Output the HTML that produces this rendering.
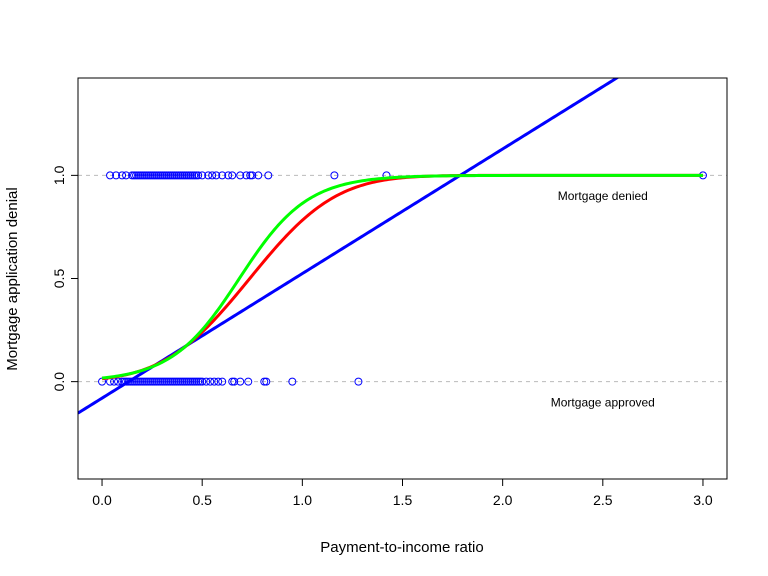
<!DOCTYPE html>
<html><head><meta charset="utf-8"><style>
body{margin:0;background:#fff}
svg{display:block;font-family:"Liberation Sans",Arial,sans-serif}
</style></head><body>
<svg id="c" width="768" height="576" viewBox="0 0 768 576"></svg>
<script>
const xTicks=[0,0.5,1,1.5,2,2.5,3];
const xTickLabels=["0.0","0.5","1.0","1.5","2.0","2.5","3.0"];
const yTicks=[0,0.5,1];
const yTickLabels=["0.0","0.5","1.0"];
const deniedX=[0.04,0.07,0.1,0.12,0.15,0.16,0.17,0.18,0.19,0.2,0.21,0.22,0.23,0.24,0.25,0.26,0.27,0.28,0.29,0.3,0.31,0.32,0.33,0.34,0.35,0.36,0.37,0.38,0.39,0.4,0.41,0.42,0.43,0.44,0.45,0.46,0.47,0.48,0.5,0.53,0.55,0.57,0.6,0.63,0.65,0.69,0.72,0.74,0.75,0.78,0.83,1.16,1.42,3.0];
const approvedX=[0.0,0.04,0.06,0.08,0.1,0.11,0.12,0.13,0.14,0.15,0.16,0.17,0.18,0.19,0.2,0.21,0.22,0.23,0.24,0.25,0.26,0.27,0.28,0.29,0.3,0.31,0.32,0.33,0.34,0.35,0.36,0.37,0.38,0.39,0.4,0.41,0.42,0.43,0.44,0.45,0.46,0.47,0.48,0.49,0.5,0.52,0.54,0.56,0.58,0.6,0.65,0.66,0.69,0.73,0.81,0.82,0.95,1.28];
const linearCoef=[-0.080,0.604];
const probitCoef=[-2.19,2.97];
const logitCoef=[-4.03,5.88];

const NS="http://www.w3.org/2000/svg";
const svg=document.getElementById('c');
const L=78,R=727,T=78,B=479;
const xmin=-0.12,xmax=3.12,ymin=-0.472,ymax=1.472;
const sx=v=>L+(v-xmin)/(xmax-xmin)*(R-L);
const sy=v=>B-(v-ymin)/(ymax-ymin)*(B-T);
function el(t,a,p){const e=document.createElementNS(NS,t);for(const k in a)e.setAttribute(k,a[k]);(p||svg).appendChild(e);return e;}
function erf(x){const s=Math.sign(x);x=Math.abs(x);const t=1/(1+0.3275911*x);const y=1-(((((1.061405429*t-1.453152027)*t)+1.421413741)*t-0.284496736)*t+0.254829592)*t*Math.exp(-x*x);return s*y;}
const Phi=z=>0.5*(1+erf(z/Math.SQRT2));

const clip=el('clipPath',{id:'cp'});el('rect',{x:L,y:T,width:R-L,height:B-T},clip);

[0,1].forEach(v=>{
  const g=el('line',{x1:L,x2:R,y1:sy(v),y2:sy(v),stroke:'#bbb','stroke-dasharray':'4,4'});
  
  
});

const pts=el('g',{});


deniedX.forEach(x=>{const c=el('circle',{cx:sx(x),cy:sy(1),r:3.5,fill:'none',stroke:'#0000ff'},pts);

});
approvedX.forEach(x=>{const c=el('circle',{cx:sx(x),cy:sy(0),r:3.5,fill:'none',stroke:'#0000ff'},pts);

});

function curve(f,col,name,from,to){let d='';for(let i=0;i<=300;i++){const x=from+(to-from)*i/300;d+=(i?'L':'M')+sx(x).toFixed(2)+','+sy(f(x)).toFixed(2);}
const p=el('path',{d:d,fill:'none',stroke:col,'stroke-width':3,'clip-path':'url(#cp)'});

}
curve(x=>linearCoef[0]+linearCoef[1]*x,'#0000ff','linear-fit-line',xmin,xmax);
curve(x=>Phi(probitCoef[0]+probitCoef[1]*x),'#ff0000','probit-fit-line',0,3);
curve(x=>1/(1+Math.exp(-(logitCoef[0]+logitCoef[1]*x))),'#00ff00','logit-fit-line',0,3);

const box=el('rect',{x:L,y:T,width:R-L,height:B-T,fill:'none',stroke:'#000'});



xTicks.forEach((v,i)=>{el('line',{x1:sx(v),x2:sx(v),y1:B,y2:B+7,stroke:'#000'});
const t=el('text',{x:sx(v),y:B+26,'text-anchor':'middle','font-size':14});t.textContent=xTickLabels[i];

});
el('line',{x1:sx(0),x2:sx(3),y1:B,y2:B,stroke:'#000'});
yTicks.forEach((v,i)=>{el('line',{x1:L,x2:L-7,y1:sy(v),y2:sy(v),stroke:'#000'});
const t=el('text',{x:L-14,y:sy(v),'text-anchor':'middle','font-size':14,transform:`rotate(-90 ${L-14} ${sy(v)})`});t.textContent=yTickLabels[i];

});
el('line',{x1:L,x2:L,y1:sy(0),y2:sy(1),stroke:'#000'});

const xt=el('text',{x:402,y:552,'text-anchor':'middle','font-size':15});xt.textContent='Payment-to-income ratio';


const yt=el('text',{x:17,y:279,'text-anchor':'middle','font-size':15,transform:'rotate(-90 17 279)'});yt.textContent='Mortgage application denial';


const a1=el('text',{x:sx(2.5),y:sy(0.9)+4,'text-anchor':'middle','font-size':12});a1.textContent='Mortgage denied';


const a2=el('text',{x:sx(2.5),y:sy(-0.1)+4,'text-anchor':'middle','font-size':12});a2.textContent='Mortgage approved';


</script>
</body></html>
